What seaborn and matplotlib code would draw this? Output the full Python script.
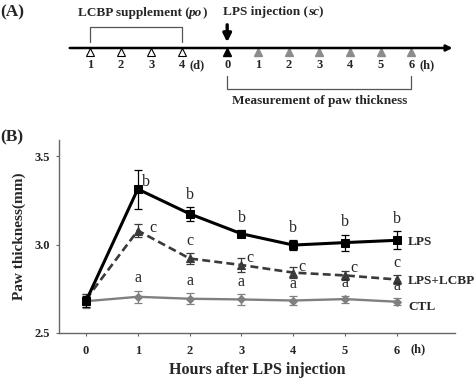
import numpy as np
import pandas as pd
import matplotlib
matplotlib.use('Agg')
import matplotlib.pyplot as plt
import seaborn as sns

# timeline of the protocol (panel A)
days = [1, 2, 3, 4]
hours = [0, 1, 2, 3, 4, 5, 6]

# paw thickness (mm), mean and error per hour (panel B)
time_h = [0, 1, 2, 3, 4, 5, 6]
lps_mean = [2.68, 3.315, 3.175, 3.062, 2.998, 3.012, 3.025]
lps_err = [0.03, 0.11, 0.04, 0.02, 0.03, 0.045, 0.05]
lcbp_mean = [2.69, 3.08, 2.922, 2.885, 2.842, 2.826, 2.803]
lcbp_err = [0.03, 0.035, 0.03, 0.04, 0.03, 0.025, 0.025]
ctl_mean = [2.68, 2.705, 2.694, 2.69, 2.684, 2.692, 2.677]
ctl_err = [0.04, 0.035, 0.03, 0.03, 0.025, 0.02, 0.02]

lps_letters = ['', 'b', 'b', 'b', 'b', 'b', 'b']
lcbp_letters = ['', 'c', 'c', 'c', 'c', 'c', 'c']
ctl_letters = ['', 'a', 'a', 'a', 'a', 'a', 'a']

sns.set_theme(style='white')
plt.rcParams['font.family'] = ['Liberation Serif', 'DejaVu Serif']


def mixed_text(ax, x, y, parts, **kw):
    """
    Write text pieces one after another, some of them in italics
    """
    t = ax.text(x, y, parts[0][0], ha='left', va='bottom', style=parts[0][1], **kw)
    for s, st in parts[1:]:
        t = ax.annotate(s, xy=(1, 0), xycoords=t, ha='left', va='bottom', style=st, **kw)
    return t


fig = plt.figure(figsize=(4.74, 3.79), dpi=100)

# ---------------- panel A ----------------
ax_a = fig.add_axes([0, 1 - 115 / 379, 1, 115 / 379])
ax_a.set_xlim(-2.93, 12.51)
ax_a.set_ylim(115, 0)
ax_a.axis('off')

line_y = 48
hour_shift = 4.47
day_x = np.array(days) - 1
hour_x = np.array(hours) + hour_shift

ax_a.annotate('', xy=(11.9, line_y), xytext=(-0.75, line_y),
              arrowprops=dict(arrowstyle='-|>', color='black', lw=1.8, mutation_scale=9))
ax_a.plot(day_x, [line_y + 4] * len(day_x), linestyle='none', marker='^', markersize=6,
          markerfacecolor='white', markeredgecolor='black', markeredgewidth=0.8)
ax_a.plot(hour_x[:1], [line_y + 4], linestyle='none', marker='^', markersize=6, color='black')
ax_a.plot(hour_x[1:], [line_y + 4] * (len(hour_x) - 1), linestyle='none', marker='^',
          markersize=6, color='#8c8c8c')

for x, d in zip(day_x, days):
    ax_a.text(x, 65, str(d), ha='center', va='center', fontsize=9, fontweight='bold')
for x, h in zip(hour_x, hours):
    ax_a.text(x, 65, str(h), ha='center', va='center', fontsize=9, fontweight='bold')
ax_a.text(day_x[-1] + 0.25, 65, '(d)', ha='left', va='center', fontsize=9, fontweight='bold')
ax_a.text(hour_x[-1] + 0.25, 65, '(h)', ha='left', va='center', fontsize=9, fontweight='bold')

# supplement bracket
ax_a.plot([day_x[0], day_x[0], day_x[-1], day_x[-1]], [42, 27, 27, 42], color='#555555', lw=0.9)
mixed_text(ax_a, -0.4, 19, [('LCBP supplement (', 'normal'), ('po', 'italic'), (')', 'normal')],
           fontsize=9.5, fontweight='bold')

# injection arrow
ax_a.annotate('', xy=(hour_x[0], 45), xytext=(hour_x[0], 22),
              arrowprops=dict(arrowstyle='-|>', color='black', lw=2.4, mutation_scale=12))
mixed_text(ax_a, 4.33, 18, [('LPS injection (', 'normal'), ('sc', 'italic'), (')', 'normal')],
           fontsize=9.5, fontweight='bold')

# measurement bracket
ax_a.plot([hour_x[0], hour_x[0], hour_x[-1], hour_x[-1]], [76, 89, 89, 76], color='#555555', lw=0.9)
ax_a.text((hour_x[0] + hour_x[-1]) / 2, 101, 'Measurement of paw thickness', ha='center',
          va='center', fontsize=9.5, fontweight='bold')
ax_a.text(-2.93, 12, '(A)', ha='left', va='center', fontsize=12.5, fontweight='bold')

# ---------------- panel B ----------------
ax = fig.add_axes([59 / 474, 1 - 333 / 379, 396 / 474, 193 / 379])

df = pd.DataFrame({
    'time': time_h * 3,
    'thickness': lps_mean + lcbp_mean + ctl_mean,
    'group': ['LPS'] * 7 + ['LPS+LCBP'] * 7 + ['CTL'] * 7,
})
colors = {'LPS': 'black', 'LPS+LCBP': '#3a3a3a', 'CTL': '#808080'}
markers = {'LPS': 's', 'LPS+LCBP': '^', 'CTL': 'D'}
widths = {'LPS': 2.2, 'LPS+LCBP': 1.9, 'CTL': 1.7}

for name, mean, err in [('CTL', ctl_mean, ctl_err), ('LPS+LCBP', lcbp_mean, lcbp_err),
                        ('LPS', lps_mean, lps_err)]:
    sub = df[df['group'] == name]
    sns.lineplot(data=sub, x='time', y='thickness', ax=ax, color=colors[name],
                 marker=markers[name], markersize=6 if name != 'CTL' else 4.5,
                 markeredgecolor=colors[name], linewidth=widths[name], legend=False)
    if name == 'LPS+LCBP':
        ax.lines[-1].set_dashes((3, 1.6))
    ax.errorbar(time_h, mean, yerr=err, fmt='none', ecolor=colors[name], elinewidth=0.9,
                capsize=3, capthick=0.9)

# significance letters: (anchor on mean or on bar top, offset in points)
lps_pos = [None, ('m', 6, 5), ('t', 0, 3), ('t', 0, 3), ('t', 0, 3), ('t', 0, 3), ('t', 0, 3)]
lcbp_pos = [None, ('m', 11, 2), ('t', 0, 3), ('m', 6, 5), ('m', 6, 4), ('m', 6, 5), ('t', 0, 3)]
ctl_pos = [None] + [('t', 0, 3)] * 6
for mean, err, letters, pos in [(lps_mean, lps_err, lps_letters, lps_pos),
                                (lcbp_mean, lcbp_err, lcbp_letters, lcbp_pos),
                                (ctl_mean, ctl_err, ctl_letters, ctl_pos)]:
    for t, m, e, s, p in zip(time_h, mean, err, letters, pos):
        if not s:
            continue
        if p[0] == 'm':
            ax.annotate(s, xy=(t, m), xytext=(p[1], p[2]), textcoords='offset points',
                        ha='center', va='center', fontsize=11.5)
        else:
            ax.annotate(s, xy=(t, m + e), xytext=(p[1], p[2]), textcoords='offset points',
                        ha='center', va='bottom', fontsize=11.5)

# series labels
for name, mean, dy in [('LPS', lps_mean, -1), ('LPS+LCBP', lcbp_mean, -1), ('CTL', ctl_mean, -3.5)]:
    ax.annotate(name, xy=(time_h[-1], mean[-1]), xytext=(8, dy), textcoords='offset points',
                ha='left', va='center', fontsize=9.5, fontweight='bold')

ax.set_xlim(-0.52, 7.12)
ax.set_ylim(2.5, 3.593)
ax.set_xticks(time_h)
ax.set_xticklabels([str(t) for t in time_h], fontweight='bold', fontsize=9)
ax.set_yticks([2.5, 3.0, 3.5])
ax.set_yticklabels(['2.5', '3.0', '3.5'], fontweight='bold', fontsize=9)
ax.tick_params(axis='both', length=2.5, width=0.8, color='#666666', direction='out',
               left=True, bottom=True)
ax.tick_params(axis='x', pad=6)
ax.tick_params(axis='y', pad=4)
for side in ['top', 'right']:
    ax.spines[side].set_visible(False)
for side in ['left', 'bottom']:
    ax.spines[side].set_color('#666666')
    ax.spines[side].set_linewidth(1.0)

ax.set_xlabel('Hours after LPS injection', fontsize=11.5, fontweight='bold', labelpad=4)
ax.set_ylabel('Paw thickness(mm)', fontsize=11, fontweight='bold', labelpad=6)
ax.annotate('(h)', xy=(time_h[-1], 2.5), xytext=(15, -11.5), textcoords='offset points',
            ha='center', va='center', fontsize=9, fontweight='bold')
fig.text(0, 1 - 137 / 379, '(B)', ha='left', va='center', fontsize=12.5, fontweight='bold')

fig.savefig('out.png', dpi=100)
